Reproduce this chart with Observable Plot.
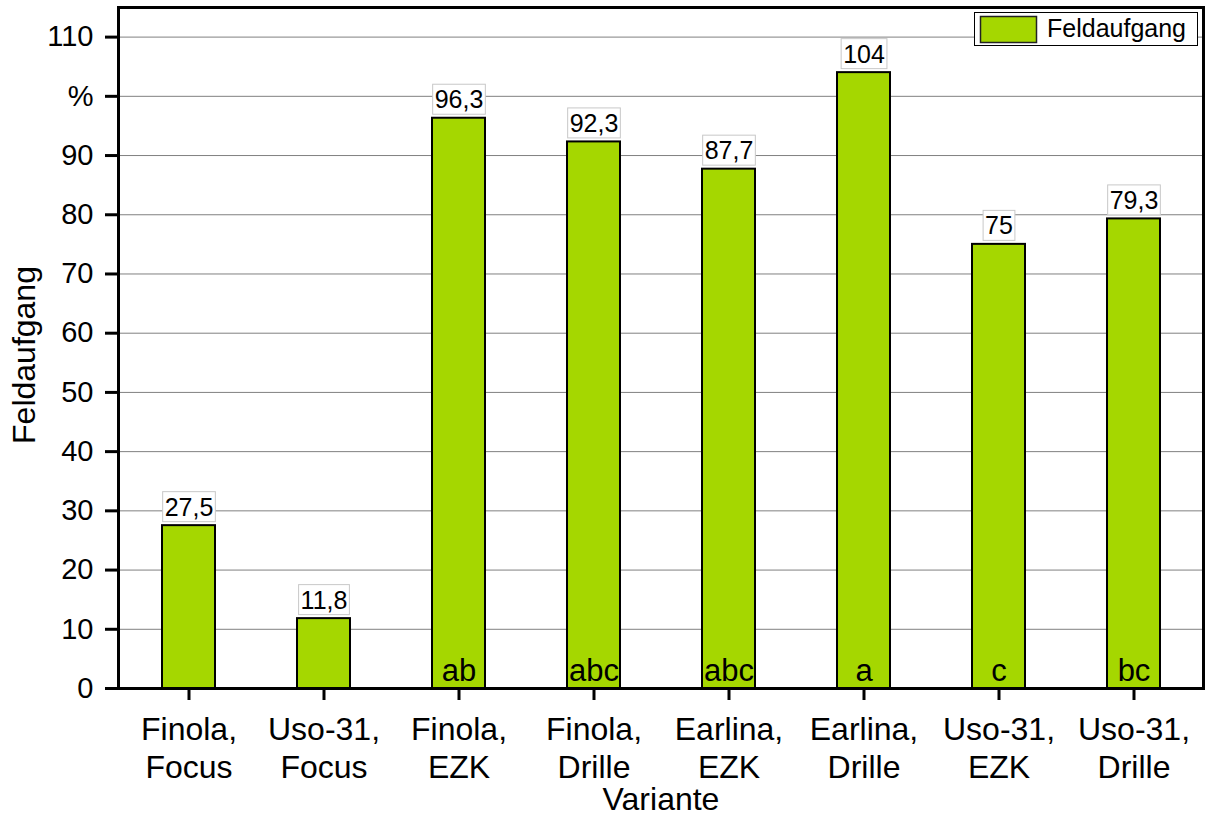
<!DOCTYPE html>
<html><head><meta charset="utf-8">
<script src="https://cdn.jsdelivr.net/npm/d3@7"></script>
<script src="https://cdn.jsdelivr.net/npm/@observablehq/plot@0.6"></script>
<style>
body{margin:0;background:#fff;}
#chart{position:absolute;left:0;top:0;}
</style></head><body><div id="chart"></div>
<script>
const categories = ["Finola,\nFocus", "Uso-31,\nFocus", "Finola,\nEZK", "Finola,\nDrille", "Earlina,\nEZK", "Earlina,\nDrille", "Uso-31,\nEZK", "Uso-31,\nDrille"];
const values = [27.5, 11.8, 96.3, 92.3, 87.7, 104, 75, 79.3];
const valueLabels = ["27,5", "11,8", "96,3", "92,3", "87,7", "104", "75", "79,3"];
const groupLetters = ["", "", "ab", "abc", "abc", "a", "c", "bc"];
const yTicks = [0, 10, 20, 30, 40, 50, 60, 70, 80, 90, 100, 110];
const yTickLabels = ["0", "10", "20", "30", "40", "50", "60", "70", "80", "90", "%", "110"];
const seriesName = "Feldaufgang";
const xTitle = "Variante";
const yTitle = "Feldaufgang";
const barColor = "#a5d700";
const FONT = "'Liberation Sans', Arial, Helvetica, sans-serif";

const data = categories.map((c, i) => ({cat: c, value: values[i], label: valueLabels[i], letters: groupLetters[i]}));

const plot = Plot.plot({
  width: 1208, height: 816,
  marginLeft: 118, marginRight: 5, marginTop: 7, marginBottom: 128,
  style: {fontFamily: FONT, background: "white", color: "black"},
  x: {domain: categories, paddingInner: 0.61, paddingOuter: 0.305, label: null},
  y: {domain: [0, 115], label: null},
  marks: [
    Plot.gridY(yTicks.filter(t => t > 0), {stroke: "#808080", strokeOpacity: 1, strokeWidth: 1}),
    Plot.barY(data, {x: "cat", y: "value", fill: barColor, stroke: "black", strokeWidth: 2}),
    Plot.text(data, {x: "cat", y: 0, text: "letters", fontSize: 31, lineAnchor: "bottom", dy: -8, fill: "black"}),
    Plot.text(data, {x: "cat", y: "value", text: "label", fontSize: 25, lineAnchor: "bottom", dy: -10, fill: "black"}),
    Plot.axisY({ticks: yTicks, tickFormat: d => yTickLabels[yTicks.indexOf(d)], tickSize: 13, tickPadding: 12, fontSize: 29, strokeWidth: 3, label: null}),
    Plot.axisX({tickSize: 12, tickPadding: 13, fontSize: 32, lineHeight: 1.18, strokeWidth: 3, label: null}),
    Plot.frame({stroke: "black", strokeWidth: 3}),
    Plot.text([xTitle], {text: d => d, frameAnchor: "bottom", dy: 111, fontSize: 32, lineAnchor: "middle", textAnchor: "middle"}),
    Plot.text([yTitle], {text: d => d, frameAnchor: "left", dx: -94, dy: 7, rotate: -90, fontSize: 32, lineAnchor: "middle", textAnchor: "middle"})
  ]
});
document.getElementById("chart").append(plot);

const svg = d3.select(plot);
// white boxes with light grey border behind the value labels
svg.selectAll("text").filter(function() {
  return this.parentNode && this.parentNode.getAttribute("aria-label") === "text" &&
    valueLabels.includes(this.textContent) && this.parentNode.childElementCount === valueLabels.length &&
    this.parentNode.firstElementChild.textContent === valueLabels[0];
}).each(function() {
  const bb = this.getBBox();
  d3.select(this.parentNode).insert("rect", () => this)
    .attr("transform", this.getAttribute("transform"))
    .attr("x", bb.x - 2).attr("y", bb.y - 1)
    .attr("width", bb.width + 4).attr("height", bb.height + 2)
    .attr("fill", "white").attr("stroke", "#c8c8c8").attr("stroke-width", 1);
});

// legend (inside plot frame, top-right)
const lg = svg.append("g").attr("font-family", FONT);
lg.append("rect").attr("x", 974.5).attr("y", 12.5).attr("width", 223).attr("height", 33)
  .attr("fill", "white").attr("stroke", "black").attr("stroke-width", 1);
lg.append("rect").attr("x", 980.5).attr("y", 16.5).attr("width", 56).attr("height", 26)
  .attr("fill", barColor).attr("stroke", "#222").attr("stroke-width", 1.5);
lg.append("text").attr("x", 1047).attr("y", 37).attr("font-size", 25).attr("text-anchor", "start")
  .attr("fill", "black").text(seriesName);
</script></body></html>
